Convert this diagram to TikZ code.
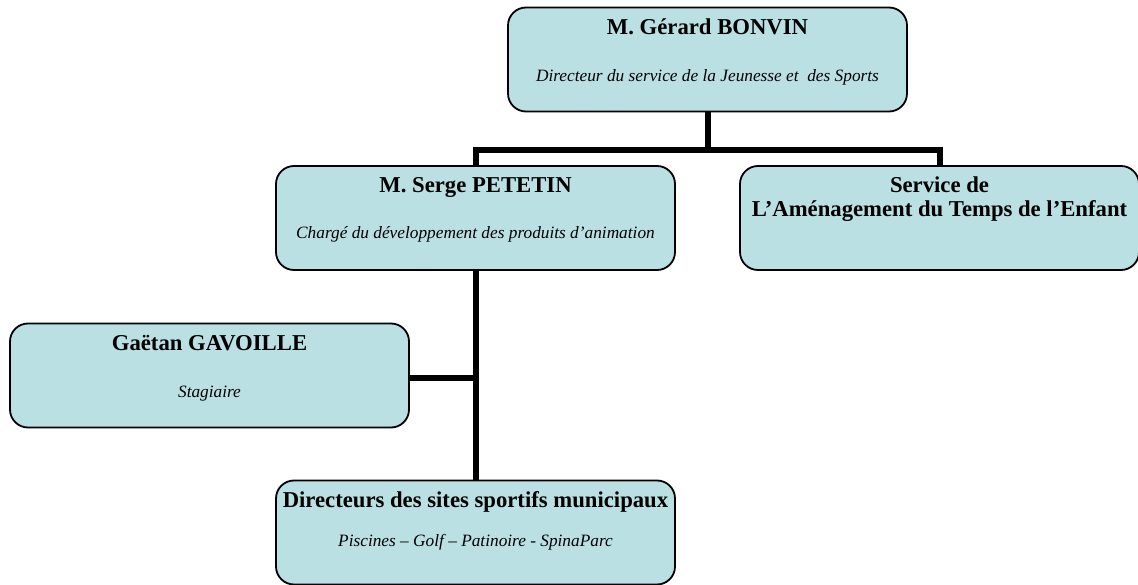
\documentclass[tikz,border=0pt]{standalone}
\usepackage{fontspec}
\setmainfont{Liberation Serif}
\usetikzlibrary{positioning}
\definecolor{boxfill}{RGB}{186,224,228}

\tikzset{
  box/.style={draw, line width=1.8pt, fill=boxfill, rounded corners=18pt,
    minimum width=399pt, minimum height=104pt, inner sep=0pt},
  titre/.style={anchor=base, inner sep=0pt, align=center,
    font=\fontsize{22.7}{24}\selectfont\bfseries},
  soustitre/.style={anchor=base, inner sep=0pt,
    font=\fontsize{17.3}{20}\selectfont\itshape},
  lien/.style={line width=6pt}
}

\begin{document}
\begin{tikzpicture}[x=1pt, y=-1pt]
    \useasboundingbox (0,0) rectangle (1138,585);

    % les cadres
    \node[box] (bonvin) at (707.5,59.5) {};
    \node[box] (petetin) at (475.5,218) {};
    \node[box] (service) at (939.5,218) {};
    \node[box] (gavoille) at (209.5,375.5) {};
    \node[box] (sites) at (475.5,532.5) {};

    % les textes
    \node[titre] (bonvin-t) at ([yshift=-28pt]bonvin.north) {M. G\'erard BONVIN};
    \node[soustitre] (bonvin-s) at ([yshift=-75pt]bonvin.north) {Directeur du service de la Jeunesse et \ des Sports};
    \node[titre] (petetin-t) at ([yshift=-27pt]petetin.north) {M. Serge PETETIN};
    \node[soustitre] (petetin-s) at ([yshift=-73pt]petetin.north) {Charg\'e du d\'eveloppement des produits d’animation};
    \node[titre, anchor=north] (service-t) at ([yshift=-11pt]service.north) {Service de\\L’Am\'enagement du Temps de l’Enfant};
    \node[titre] (gavoille-t) at ([yshift=-28pt]gavoille.north) {Ga\"etan GAVOILLE};
    \node[soustitre] (gavoille-s) at ([yshift=-75pt]gavoille.north) {Stagiaire};
    \node[titre] (sites-t) at ([yshift=-28pt]sites.north) {Directeurs des sites sportifs municipaux};
    \node[soustitre] (sites-s) at ([yshift=-67pt]sites.north) {Piscines – Golf – Patinoire - SpinaParc};

    % les liaisons
    \coordinate (bus) at (707.5,150);
    \coordinate (noeud) at (475.5,378);
    \draw[lien] (bonvin.south) -- (bus);
    \draw[lien] (petetin.north) |- (bus) -| (service.north);
    \draw[lien] (petetin.south) -- (sites.north);
    \draw[lien] (gavoille.east |- noeud) -- (noeud);
\end{tikzpicture}
\end{document}
